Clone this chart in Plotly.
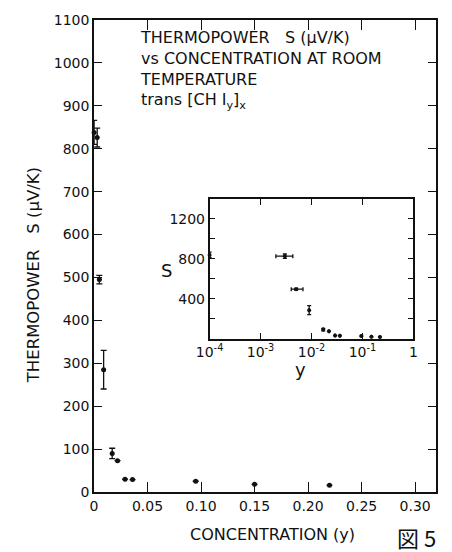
import plotly.graph_objects as go

# Thermopower of trans-[CH I_y]_x versus iodine concentration y
conc = [0.0001, 0.003, 0.005, 0.009, 0.017, 0.022, 0.029, 0.036, 0.095, 0.15, 0.22]
seebeck = [838, 826, 495, 285, 90, 73, 30, 29, 25, 18, 16]
s_err = [28, 22, 10, 45, 12, 0, 0, 0, 0, 0, 0]
conc_err_minus = [0, 0.001, 0.001, 0, 0, 0, 0, 0, 0, 0, 0]
conc_err_plus = [0, 0.0013, 0.0018, 0, 0, 0, 0, 0, 0, 0, 0]

main_yticks = list(range(0, 1101, 100))
main_xticks = [0, 0.05, 0.10, 0.15, 0.20, 0.25, 0.30]
main_xlabels = ["0", "0.05", "0.10", "0.15", "0.20", "0.25", "0.30"]
inset_xticks = [1e-4, 1e-3, 1e-2, 1e-1, 1]
inset_xlabels = ["10<sup>-4</sup>", "10<sup>-3</sup>", "10<sup>-2</sup>", "10<sup>-1</sup>", "1"]
inset_yticks = [400, 800, 1200]
inset_yminor = [200, 600, 1000]

FONT = "DejaVu Sans"
INK = "#111111"

fig = go.Figure()

err_y = dict(type="data", array=s_err, visible=True, color=INK, thickness=1.3, width=3)
err_x = dict(type="data", array=conc_err_plus, arrayminus=conc_err_minus,
             visible=True, color=INK, thickness=1.3, width=0)

fig.add_trace(go.Scatter(
    x=conc, y=seebeck, mode="markers",
    marker=dict(size=5, color=INK),
    error_y=err_y, error_x=err_x,
    xaxis="x", yaxis="y", cliponaxis=False, showlegend=False))

fig.add_trace(go.Scatter(
    x=conc, y=seebeck, mode="markers",
    marker=dict(size=4, color=INK),
    error_y=dict(err_y, width=2), error_x=dict(err_x, width=2),
    xaxis="x2", yaxis="y2", cliponaxis=False, showlegend=False))

axis_common = dict(showline=True, linecolor=INK, linewidth=1.5, mirror="ticks",
                   ticks="inside", tickcolor=INK, tickwidth=1.3,
                   showgrid=False, zeroline=False,
                   tickfont=dict(family=FONT, size=14, color=INK))

fig.update_layout(
    width=452, height=552,
    margin=dict(l=94, r=12, t=12, b=60),
    paper_bgcolor="white", plot_bgcolor="white",
    font=dict(family=FONT, color=INK),
    xaxis=dict(axis_common, range=[0, 0.3195], tickvals=main_xticks,
               ticktext=main_xlabels, ticklen=10, domain=[0, 1]),
    yaxis=dict(axis_common, range=[0, 1100], tickvals=main_yticks, ticklen=8,
               domain=[0, 1]),
    xaxis2=dict(axis_common, type="log", range=[-4, 0], tickvals=inset_xticks,
                ticktext=inset_xlabels, ticklen=6, anchor="y2",
                domain=[0.338, 0.934]),
    yaxis2=dict(axis_common, range=[0, 1400], tickvals=inset_yticks, ticklen=6,
                anchor="x2", domain=[0.325, 0.621],
                minor=dict(tickmode="array", tickvals=inset_yminor, ticks="inside",
                           ticklen=6, tickcolor=INK, tickwidth=1.3, showgrid=False)),
)

# Axis titles
fig.add_annotation(text="THERMOPOWER   S (\u03bcV/K)", xref="paper", yref="paper",
                   x=-0.208, y=0.46, textangle=-90, showarrow=False,
                   font=dict(family=FONT, size=16.5, color=INK))
fig.add_annotation(text="CONCENTRATION (y)", xref="paper", yref="paper",
                   x=0.523, y=-0.065, yanchor="top", showarrow=False,
                   font=dict(family=FONT, size=16, color=INK))
fig.add_annotation(text="\u56f3 5", xref="paper", yref="paper",
                   x=1.005, y=-0.058, yanchor="top", xanchor="right", showarrow=False,
                   font=dict(family="Noto Sans CJK JP", size=22, color=INK))

# Inset axis titles
fig.add_annotation(text="S", xref="paper", yref="paper",
                   x=0.19, y=0.47, showarrow=False,
                   font=dict(family=FONT, size=18, color=INK))
fig.add_annotation(text="y", xref="paper", yref="paper",
                   x=0.605, y=0.233, showarrow=False,
                   font=dict(family=FONT, size=18, color=INK))

# Caption block
caption = ("THERMOPOWER   S (\u03bcV/K)<br>vs CONCENTRATION AT ROOM<br>TEMPERATURE<br>"
           "trans [CH I<sub>y</sub>]<sub>x</sub>")
fig.add_annotation(text=caption, xref="paper", yref="paper",
                   x=0.128, y=0.9875, xanchor="left", yanchor="top", align="left",
                   showarrow=False,
                   font=dict(family=FONT, size=16, color=INK))

fig.write_html("out.html")
